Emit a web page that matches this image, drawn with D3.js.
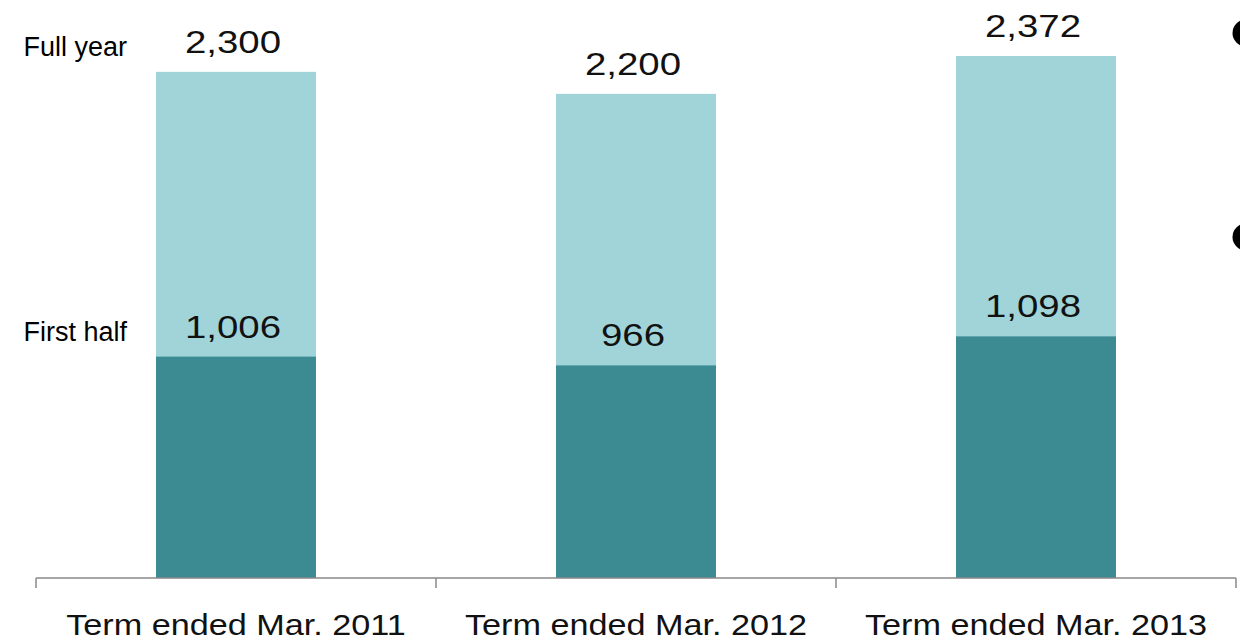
<!DOCTYPE html>
<html>
<head>
<meta charset="utf-8">
<script src="https://cdn.jsdelivr.net/npm/d3@7"></script>
<style>
  html, body { margin: 0; padding: 0; background: #fff; }
  svg { display: block; }
</style>
</head>
<body>
<svg id="chart" width="1240" height="644"></svg>
<script>
// Fiscal terms and their first-half / full-year totals
const terms = ["Term ended Mar. 2011", "Term ended Mar. 2012", "Term ended Mar. 2013"];
const firstHalf = [1006, 966, 1098];
const fullYear = [2300, 2200, 2372];
const rowLabels = ["Full year", "First half"];

const W = 1240, H = 644;
const svg = d3.select("#chart");

const x = d3.scaleBand().domain(terms).range([36, 1236]).padding(0);
const y = d3.scaleLinear().domain([0, 2372]).range([578, 56]);

const barW = x.bandwidth() * 0.4;
const fmt = d3.format(",");

const colFull = "#a0d4d8";
const colHalf = "#3d8b92";

const rows = terms.map((t, i) => ({ term: t, half: firstHalf[i], full: fullYear[i] }));

// Full-year bar (light), drawn from the baseline up to the annual total
svg.append("g").selectAll("rect").data(rows).join("rect")
  .attr("x", d => x(d.term) + (x.bandwidth() - barW) / 2)
  .attr("width", barW)
  .attr("y", d => y(d.full))
  .attr("height", d => y(0) - y(d.full))
  .attr("fill", colFull);

// First-half portion (dark) overlaid at the bottom
svg.append("g").selectAll("rect").data(rows).join("rect")
  .attr("x", d => x(d.term) + (x.bandwidth() - barW) / 2)
  .attr("width", barW)
  .attr("y", d => y(d.half))
  .attr("height", d => y(0) - y(d.half))
  .attr("fill", colHalf);

// Value labels, widened glyphs
const numFont = "'Liberation Sans', Arial, sans-serif";
function valueLabels(key) {
  svg.append("g").selectAll("text").data(rows).join("text")
    .attr("transform", d => `translate(${x(d.term) + x.bandwidth() / 2 - 3},${y(d[key]) - 19}) scale(1.2,1)`)
    .attr("text-anchor", "middle")
    .attr("font-family", numFont)
    .attr("font-size", 32)
    .attr("fill", "#111")
    .text(d => fmt(d[key]));
}
valueLabels("full");
valueLabels("half");

// Row captions on the left
svg.append("text")
  .attr("x", 127).attr("y", y(fullYear[0]) - 16)
  .attr("text-anchor", "end")
  .attr("font-family", "'Liberation Sans', Arial, sans-serif")
  .attr("font-size", 27)
  .attr("fill", "#000")
  .text(rowLabels[0]);
svg.append("text")
  .attr("x", 127).attr("y", y(firstHalf[0]) - 16)
  .attr("text-anchor", "end")
  .attr("font-family", "'Liberation Sans', Arial, sans-serif")
  .attr("font-size", 27)
  .attr("fill", "#000")
  .text(rowLabels[1]);

// Category axis with boundary ticks between terms
const axisG = svg.append("g").attr("transform", `translate(0,${y(0)})`);
axisG.append("line")
  .attr("x1", x.range()[0]).attr("x2", x.range()[1])
  .attr("stroke", "#888").attr("stroke-width", 1.5);
const boundaries = terms.map(t => x(t)).concat([x.range()[1]]);
axisG.selectAll("line.tick").data(boundaries).join("line")
  .attr("class", "tick")
  .attr("x1", d => d).attr("x2", d => d)
  .attr("y1", 0).attr("y2", 10)
  .attr("stroke", "#888").attr("stroke-width", 1.5);
axisG.selectAll("text").data(terms).join("text")
  .attr("transform", d => `translate(${x(d) + x.bandwidth() / 2},57) scale(1.18,1)`)
  .attr("text-anchor", "middle")
  .attr("font-family", numFont)
  .attr("font-size", 29)
  .attr("fill", "#111")
  .text(d => d);

// Bullet markers at the right edge
svg.append("g").selectAll("circle").data([33, 237]).join("circle")
  .attr("cx", 1246).attr("cy", d => d).attr("r", 13.5)
  .attr("fill", "#000");
</script>
</body>
</html>
